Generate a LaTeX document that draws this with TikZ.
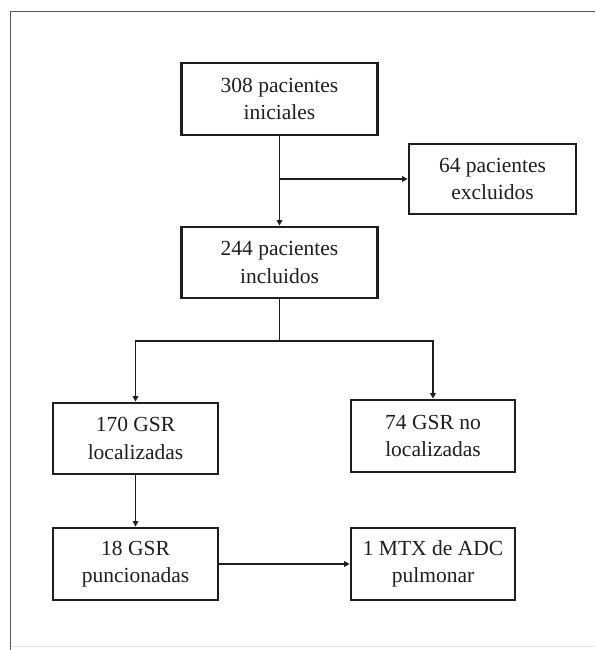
\documentclass[tikz,border=0pt]{standalone}
\usepackage{fontspec}
\setmainfont{Liberation Serif}
\usetikzlibrary{arrows.meta}
\definecolor{ink}{RGB}{30,30,30}
\begin{document}
\begin{tikzpicture}[x=1pt,y=-1pt,
  box/.style={draw=ink, line width=2.7pt, fill=white, align=center,
    inner sep=0pt, text=ink, font=\fontsize{21.5}{27.5}\selectfont},
  conn/.style={draw=ink, line width=1.6pt},
  arr/.style={conn, -{Triangle[length=5.5pt,width=5.5pt]}}]
\useasboundingbox (0,0) rectangle (595,650);
\fill[white] (0,0) rectangle (595,650);
% frame
\coordinate (ftl) at (10.6,11.7);
\coordinate (fbl) at (10.6,650);
\coordinate (ftr) at (595,11.7);
\draw[gray!70!black, line width=1.4pt] (fbl) -- (ftl) -- (ftr);
\draw[gray!20, line width=1pt] (10.6,646.5) -- (595,646.5);
% boxes
\node[box, minimum width=196pt, minimum height=72pt] (b1) at (279.5,99) {308 pacientes\\iniciales};
\node[box, minimum width=167pt, minimum height=70pt] (b64) at (492.5,179) {64 pacientes\\excluidos};
\node[box, minimum width=196pt, minimum height=71pt] (b244) at (279.5,262.5) {244 pacientes\\incluidos};
\node[box, minimum width=165pt, minimum height=71pt] (b170) at (135.5,438.5) {170 GSR\\localizadas};
\node[box, minimum width=164pt, minimum height=72pt] (b74) at (433,436) {74 GSR no\\localizadas};
\node[box, minimum width=165pt, minimum height=72pt] (b18) at (135.5,564) {18 GSR\\puncionadas};
\node[box, minimum width=164pt, minimum height=72pt] (bm) at (433,564) {1 MTX de ADC\\pulmonar};
% connectors
\coordinate (j1) at (b1.south |- b64.west);
\coordinate (j2) at (279.5,341);
\coordinate (jl) at (b170.north |- j2);
\coordinate (jr) at (b74.north |- j2);
\draw[arr] (b1.south) -- (b244.north);
\draw[arr] (j1) -- (b64.west);
\draw[conn] (b244.south) -- (j2);
\draw[arr] (j2) -- (jl) -- (b170.north);
\draw[arr] (j2) -- (jr) -- (b74.north);
\draw[arr] (b170.south) -- (b18.north);
\draw[arr] (b18.east) -- (bm.west);
\end{tikzpicture}
\end{document}
